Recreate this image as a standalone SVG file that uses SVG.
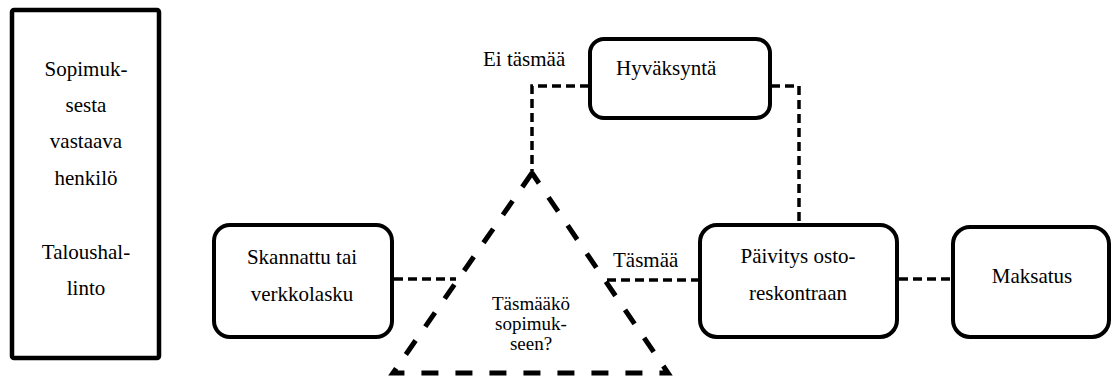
<svg xmlns="http://www.w3.org/2000/svg" width="1113" height="378" viewBox="0 0 1113 378">
  <style>
    .box { fill: #ffffff; stroke: #000000; stroke-width: 4; }
    .lane { fill: #ffffff; stroke: #000000; stroke-width: 4.5; }
    .lbl { font-family: "Liberation Serif", "Times New Roman", serif; font-size: 21px; fill: #000000; }
    .small { font-size: 19px; }
    .mid { text-anchor: middle; }
    .conn { fill: none; stroke: #000000; stroke-width: 3.5; stroke-dasharray: 9 5; }
    .tri { fill: none; stroke: #000000; stroke-width: 5; stroke-dasharray: 17 17; stroke-linejoin: miter; }
  </style>
  <rect width="1113" height="378" fill="#ffffff"/>

  <!-- Responsibility column -->
  <g id="lane">
    <rect class="lane" x="12" y="10" width="147" height="348" rx="2"/>
    <text class="lbl mid" x="86" y="76">Sopimuk-</text>
    <text class="lbl mid" x="86" y="112">sesta</text>
    <text class="lbl mid" x="86" y="148">vastaava</text>
    <text class="lbl mid" x="86" y="185">henkilö</text>
    <text class="lbl mid" x="86" y="259">Taloushal-</text>
    <text class="lbl mid" x="86" y="295">linto</text>
  </g>

  <!-- Connectors -->
  <g id="connectors">
    <line class="conn" x1="394" y1="279" x2="456" y2="279"/>
    <line class="conn" x1="700" y1="280" x2="607" y2="280"/>
    <line class="conn" x1="899" y1="279" x2="953" y2="279"/>
    <polyline class="conn" points="589,86 532,86 532,174"/>
    <polyline class="conn" points="771,86 799,86 799,224"/>
    <text class="lbl" x="483" y="66">Ei täsmää</text>
    <text class="lbl" x="613" y="267">Täsmää</text>
  </g>

  <!-- Decision: dashed triangle, drawn from the apex round to the apex -->
  <g id="decision">
    <path class="tri" d="M532,173 L393,373 L668,373 L532,173"/>
    <text class="lbl small mid" x="531" y="310">Täsmääkö</text>
    <text class="lbl small mid" x="531" y="330">sopimuk-</text>
    <text class="lbl small mid" x="531" y="350">seen?</text>
  </g>

  <g id="invoice">
    <rect class="box" x="214" y="225" width="178" height="112" rx="16"/>
    <text class="lbl mid" x="302" y="264">Skannattu tai</text>
    <text class="lbl mid" x="302" y="301">verkkolasku</text>
  </g>

  <g id="approval">
    <rect class="box" x="590" y="39" width="180" height="79" rx="14"/>
    <text class="lbl" x="616" y="75">Hyväksyntä</text>
  </g>

  <g id="ledger">
    <rect class="box" x="700" y="225" width="197" height="112" rx="17"/>
    <text class="lbl mid" x="798" y="263">Päivitys osto-</text>
    <text class="lbl mid" x="798" y="300">reskontraan</text>
  </g>

  <g id="payment">
    <rect class="box" x="953" y="227" width="156" height="110" rx="17"/>
    <text class="lbl mid" x="1032" y="283">Maksatus</text>
  </g>
</svg>
